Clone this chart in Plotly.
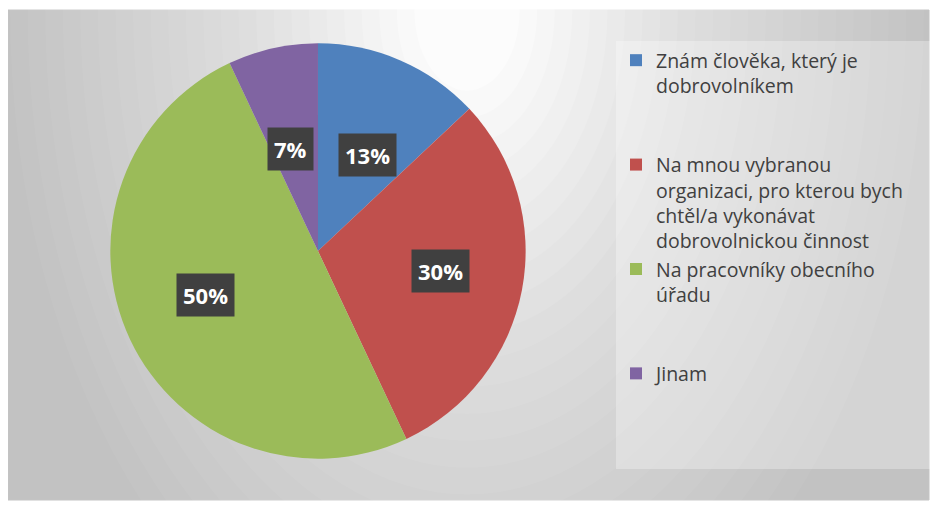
import math
import plotly.graph_objects as go

# ---- data ----
categories = [
    "Znám člověka, který je dobrovolníkem",
    "Na mnou vybranou organizaci, pro kterou bych chtěl/a vykonávat dobrovolnickou činnost",
    "Na pracovníky obecního úřadu",
    "Jinam",
]
legend_lines = [
    ["Znám člověka, který je", "dobrovolníkem"],
    ["Na mnou vybranou", "organizaci, pro kterou bych", "chtěl/a vykonávat", "dobrovolnickou činnost"],
    ["Na pracovníky obecního", "úřadu"],
    ["Jinam"],
]
values = [13, 30, 50, 7]
colors = ["#4F81BD", "#C0504D", "#9BBB59", "#8064A2"]

# ---- layout geometry (screen pixels; page body has an 8px margin) ----
OFF = 8
W, H = 927, 493
ML, MR, MT, MB = 0, 0, 2, 1
PW, PH = W - ML - MR, H - MT - MB
CX, CY, R = 320, 251, 209  # pie centre/radius on screen


def px_to_paper(x, y):
    x -= OFF
    y -= OFF
    return (x - ML) / PW, (H - MB - y) / PH


x0, _ = px_to_paper(CX - R, 0)
x1, _ = px_to_paper(CX + R, 0)
_, y1 = px_to_paper(0, CY - R)
_, y0 = px_to_paper(0, CY + R)

# legend labels: pad each item to 4 lines so spacing is even;
# the first padding line is widened so the legend panel reaches the right edge
LINES = 4
labels = []
for lines in legend_lines:
    ls = list(lines) + ["\u00a0"] * (LINES - len(lines))
    labels.append("<br>".join(ls))
labels[0] = labels[0].replace("<br>\u00a0<br>", "<br>" + "\u00a0" * 54 + "<br>", 1)

fig = go.Figure(
    go.Pie(
        labels=labels,
        values=values,
        sort=False,
        direction="clockwise",
        rotation=0,
        marker=dict(colors=colors, line=dict(width=0)),
        textinfo="none",
        hovertext=categories,
        hoverinfo="text+percent",
        domain=dict(x=[x0, x1], y=[y0, y1]),
    )
)

# percentage labels in dark boxes at slice mid-angles
total = sum(values)
cum = 0
annotations = []
for v in values:
    mid = (cum + v / 2) / total * 2 * math.pi
    cum += v
    px = CX + 0.6 * R * math.sin(mid)
    py = CY - 0.5 * R * math.cos(mid)
    ax, ay = px_to_paper(px, py)
    annotations.append(
        dict(
            x=ax, y=ay, xref="paper", yref="paper",
            xanchor="center", yanchor="middle",
            text=f"<b>{round(v / total * 100)}%</b>",
            showarrow=False,
            font=dict(family="Open Sans", size=22, color="white"),
            bgcolor="#404040",
            borderpad=6,
        )
    )

# background: gray panel with a soft highlight at the top centre
shapes = [
    dict(type="rect", xref="paper", yref="paper", x0=0, x1=1, y0=0, y1=1,
         fillcolor="#c2c2c2", line=dict(width=1, color="#c4c4c4"), layer="below")
]
hx, hy = px_to_paper(470, 10)
N = 24
base, top = 194.0, 252.0
prev = base
for n in range(1, N + 1):
    k = 1 - (n - 1) / (N + 2)
    target = base + (top - base) * n / N
    a = (target - prev) / (255.0 - prev)
    prev = target
    rx, ry = 460 * k, 700 * k
    shapes.append(
        dict(type="circle", xref="paper", yref="paper",
             x0=hx - rx / PW, x1=hx + rx / PW, y0=hy - ry / PH, y1=hy + ry / PH,
             fillcolor="white", opacity=a, line=dict(width=0), layer="below")
    )

lx, ly = px_to_paper(620, 41)
fig.update_layout(
    width=W, height=H,
    margin=dict(l=ML, r=MR, t=MT, b=MB),
    paper_bgcolor="white",
    shapes=shapes,
    annotations=annotations,
    showlegend=True,
    legend=dict(
        x=lx, y=ly, xanchor="left", yanchor="top",
        bgcolor="rgba(255,255,255,0.3)",
        font=dict(family="Open Sans", size=19.5, color="#404040"),
        valign="top",
        traceorder="normal",
    ),
    font=dict(family="Open Sans"),
)

fig.write_html("out.html")
